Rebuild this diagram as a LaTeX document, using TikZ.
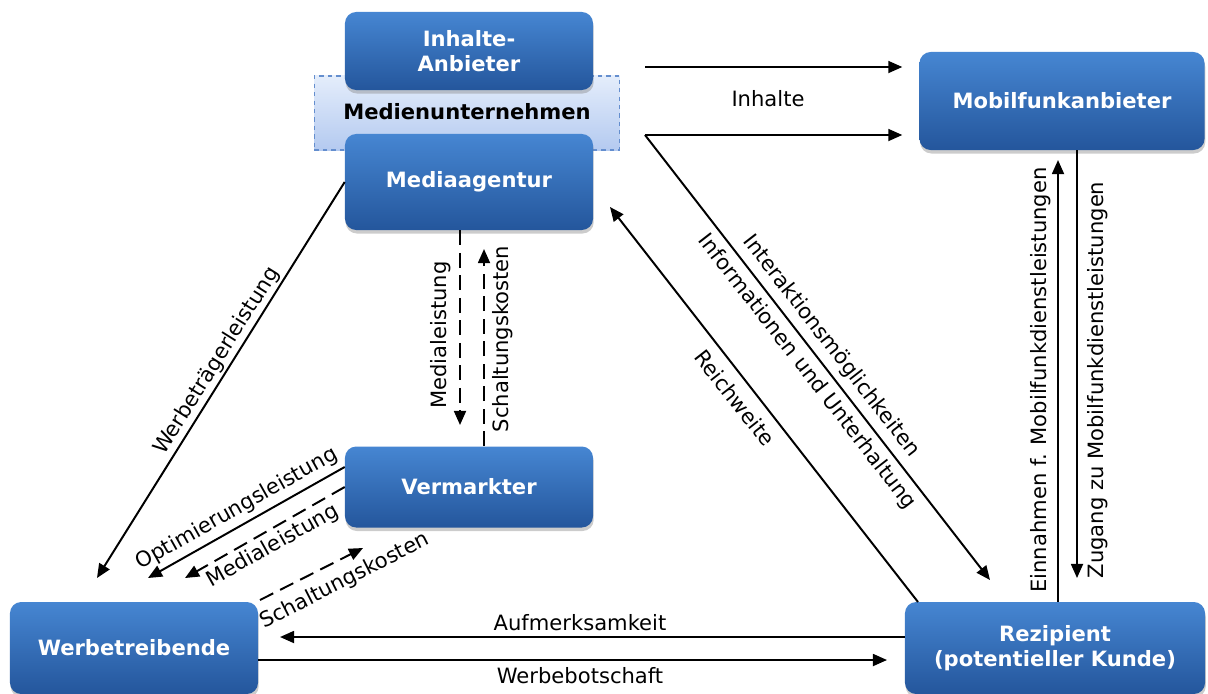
\documentclass[tikz,border=0pt]{standalone}
\usepackage{fontspec}
\setmainfont{DejaVu Sans}
\usetikzlibrary{arrows.meta,shadows}
\definecolor{boxtop}{RGB}{70,134,210}
\definecolor{boxbot}{RGB}{36,86,156}
\definecolor{bandtop}{RGB}{228,237,251}
\definecolor{bandbot}{RGB}{180,202,240}
\definecolor{bandrand}{RGB}{100,142,206}

\begin{document}
\begin{tikzpicture}[x=0.025cm, y=-0.025cm,
		box/.style={rounded corners=8pt, top color=boxtop, bottom color=boxbot, text=white, font=\bfseries\fontsize{15}{18}\selectfont, align=center, minimum width=6.2cm, drop shadow={opacity=0.4, shadow xshift=0.5pt, shadow yshift=-2.5pt}},
		band/.style={top color=bandtop, bottom color=bandbot, draw=bandrand, dashed, line width=1.2pt},
		lbl/.style={font=\fontsize{15}{18}\selectfont, inner sep=1pt},
		pfeil/.style={-{Triangle[length=10pt,width=8.5pt]}, line width=1.4pt},
		gestr/.style={pfeil, dash pattern=on 10.5pt off 5.5pt}]
		\useasboundingbox (0,0) rectangle (1208,693);
		\node (band) at (467,113) [band, minimum width=7.625cm, minimum height=1.85cm] {};
		\node (anbieter) at (469,51) [box, minimum height=1.95cm] {Inhalte-\\Anbieter};
		\node (media) at (469,182) [box, minimum height=2.4cm] {Mediaagentur};
		\node (medien) at (467,112) {\bfseries\fontsize{15}{18}\selectfont Medienunternehmen};
		\node (mobil) at (1062,101) [box, minimum width=7.125cm, minimum height=2.45cm] {Mobilfunkanbieter};
		\node (vermarkter) at (469,487) [box, minimum height=2.025cm] {Vermarkter};
		\node (werb) at (134,648) [box, minimum height=2.3cm] {Werbetreibende};
		\node (rezi) at (1055,648) [box, minimum width=7.5cm, minimum height=2.3cm] {Rezipient\\(potentieller Kunde)};
		\coordinate (inA) at (645,67);
		\coordinate (inB) at (645,135);
		\coordinate (interEnd) at (990,580);
		\coordinate (rwStart) at (918,602);
		\coordinate (rwEnd) at (610,207);
		\coordinate (wtEnd) at (97,578);
		\coordinate (mlEnd) at (460,425);
		\coordinate (skEnd) at (484,249);
		\coordinate (optEnd) at (148,578);
		\coordinate (mdEnd) at (185,578);
		\coordinate (sdStart) at (260,600);
		\coordinate (sdEnd) at (363,548);
		\coordinate (aufEnd) at (280,637);
		\coordinate (wbEnd) at (887,660);
		\coordinate (einEnd) at (1058,160);
		\coordinate (zuEnd) at (1077,578);
		\draw[pfeil] (inA) -- (inA -| mobil.west) [shorten >=12pt];
		\draw[pfeil] (inB) -- (inB -| mobil.west) [shorten >=12pt];
		\draw[pfeil] (inB) -- (interEnd);
		\draw[pfeil] (rwStart) -- (rwEnd);
		\draw[pfeil] (media.west) -- (wtEnd);
		\draw[gestr] (media.south -| mlEnd) -- (mlEnd);
		\draw[gestr] (vermarkter.north -| skEnd) -- (skEnd);
		\draw[pfeil] ([yshift=0.5cm]vermarkter.west) -- (optEnd);
		\draw[gestr] (vermarkter.west) -- (mdEnd);
		\draw[gestr] (sdStart) -- (sdEnd);
		\draw[pfeil] (rezi.west |- aufEnd) -- (aufEnd);
		\draw[pfeil] (werb.east |- wbEnd) -- (wbEnd);
		\draw[pfeil] (rezi.north -| einEnd) -- (einEnd);
		\draw[pfeil] (mobil.south -| zuEnd) -- (zuEnd);
		\node (inhalte) at (768,99) [lbl] {Inhalte};
		\node (interakt) at (831,346) [lbl, rotate=-52.2] {Interaktionsmöglichkeiten};
		\node (info) at (807,372) [lbl, rotate=-52.2] {Informationen und Unterhaltung};
		\node (reichw) at (735,398) [lbl, rotate=-51.9] {Reichweite};
		\node (werbtr) at (217,361) [lbl, rotate=57.9] {Werbeträgerleistung};
		\node (medial) at (441,335) [lbl, rotate=90] {Medialeistung};
		\node (schalt) at (503,339) [lbl, rotate=90] {Schaltungskosten};
		\node (optim) at (237,509) [lbl, rotate=29.4] {Optimierungsleistung};
		\node (medialB) at (273,546) [lbl, rotate=29.4] {Medialeistung};
		\node (schaltB) at (345,581) [lbl, rotate=27] {Schaltungskosten};
		\node (aufm) at (580,623) [lbl] {Aufmerksamkeit};
		\node (werbebot) at (580,676) [lbl] {Werbebotschaft};
		\node (einn) at (1041,380) [lbl, rotate=90] {Einnahmen f. Mobilfunkdienstleistungen};
		\node (zugang) at (1098,380) [lbl, rotate=90] {Zugang zu Mobilfunkdienstleistungen};
	\end{tikzpicture}
\end{document}
